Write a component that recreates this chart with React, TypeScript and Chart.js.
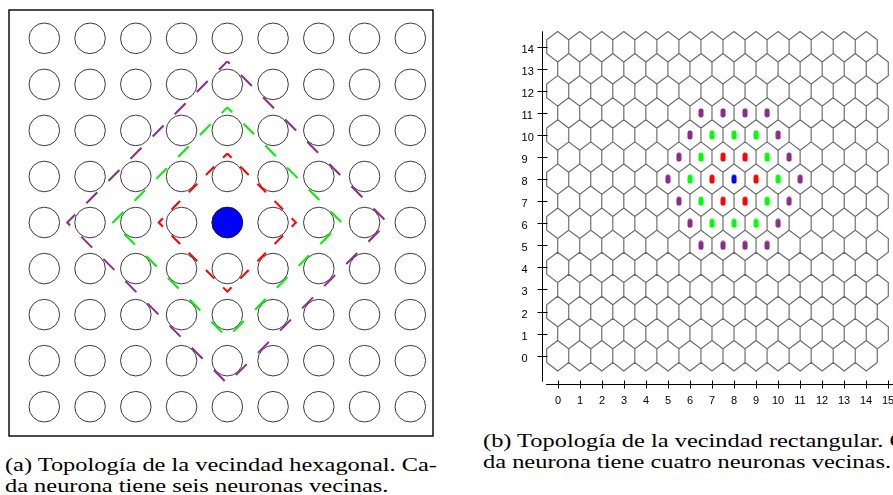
import React, { useEffect, useLayoutEffect, useRef } from "react";
import { Chart, registerables } from "chart.js";

Chart.register(...registerables);

// ---------------- Panel (a): lattice of neurons with neighbourhood rings ----------------
const LATTICE_COLS = [0, 1, 2, 3, 4, 5, 6, 7, 8];
const LATTICE_ROWS = [0, 1, 2, 3, 4, 5, 6, 7, 8];
const WINNER_A = { x: 4, y: 4 };
const RING_RADII = [1.5, 2.5, 3.5];
const RING_COLORS = ["#ff0000", "#00f000", "#8b2b8b"];
const RING_DASHES = [[12, 12.34], [15, 15.91], [15.5, 15.84]];
const RING_DASH_OFFSETS = [6, 8, 12];

// ---------------- Panel (b): hexagonal grid with neighbourhood markers ----------------
const HEX_COLS = [0, 1, 2, 3, 4, 5, 6, 7, 8, 9, 10, 11, 12, 13, 14];
const HEX_ROWS = [0, 1, 2, 3, 4, 5, 6, 7, 8, 9, 10, 11, 12, 13, 14];
const X_TICK_VALUES = [0, 1, 2, 3, 4, 5, 6, 7, 8, 9, 10, 11, 12, 13, 14, 15];
const Y_TICK_VALUES = [0, 1, 2, 3, 4, 5, 6, 7, 8, 9, 10, 11, 12, 13, 14];
const BLUE_CELLS = [[8, 8]];
const RED_CELLS = [[7.5, 9], [8.5, 9], [7, 8], [9, 8], [7.5, 7], [8.5, 7]];
const GREEN_CELLS = [
  [7, 10], [8, 10], [9, 10],
  [6.5, 9], [9.5, 9],
  [6, 8], [10, 8],
  [6.5, 7], [9.5, 7],
  [7, 6], [8, 6], [9, 6],
];
const PURPLE_CELLS = [
  [6.5, 11], [7.5, 11], [8.5, 11], [9.5, 11],
  [6, 10], [10, 10],
  [5.5, 9], [10.5, 9],
  [5, 8], [11, 8],
  [5.5, 7], [10.5, 7],
  [6, 6], [10, 6],
  [6.5, 5], [7.5, 5], [8.5, 5], [9.5, 5],
];

// hexagon shape (in cell units)
const HEX_HALF_W = 0.5;
const HEX_SIDE = 0.31;
const HEX_APEX = 0.69;

const CAPTION_A = [
  "(a) Topología de la vecindad hexagonal. Ca-",
  "da neurona tiene seis neuronas vecinas.",
];
const CAPTION_B = [
  "(b) Topología de la vecindad rectangular. Ca-",
  "da neurona tiene cuatro neuronas vecinas.",
];

function makeMarker(color: string): HTMLCanvasElement {
  const c = document.createElement("canvas");
  c.width = 6;
  c.height = 10;
  const g = c.getContext("2d")!;
  g.fillStyle = color;
  const x = 0.5, y = 0.5, w = 5, h = 9, r = 2.3;
  g.beginPath();
  g.moveTo(x + r, y);
  g.lineTo(x + w - r, y);
  g.arcTo(x + w, y, x + w, y + r, r);
  g.lineTo(x + w, y + h - r);
  g.arcTo(x + w, y + h, x + w - r, y + h, r);
  g.lineTo(x + r, y + h);
  g.arcTo(x, y + h, x, y + h - r, r);
  g.lineTo(x, y + r);
  g.arcTo(x, y, x + r, y, r);
  g.closePath();
  g.fill();
  return c;
}

const boxPlugin = {
  id: "boxPlugin",
  afterDraw(chart: any) {
    const { ctx, chartArea } = chart;
    ctx.save();
    ctx.strokeStyle = "#000";
    ctx.lineWidth = 1.4;
    ctx.strokeRect(chartArea.left, chartArea.top, chartArea.right - chartArea.left, chartArea.bottom - chartArea.top);
    ctx.restore();
  },
};

const hexAxesPlugin = {
  id: "hexAxes",
  afterDraw(chart: any) {
    const { ctx } = chart;
    const xs = chart.scales.x;
    const ys = chart.scales.y;
    ctx.save();
    ctx.strokeStyle = "#000";
    ctx.fillStyle = "#000";
    ctx.lineWidth = 1;
    // y axis
    const ax = Math.round(xs.getPixelForValue(-0.7)) + 0.5;
    ctx.beginPath();
    ctx.moveTo(ax, ys.getPixelForValue(14.7));
    ctx.lineTo(ax, ys.getPixelForValue(-1.18));
    ctx.stroke();
    ctx.font = "11px 'Liberation Sans', Arial, sans-serif";
    ctx.textAlign = "left";
    ctx.textBaseline = "middle";
    Y_TICK_VALUES.forEach((v) => {
      const py = Math.round(ys.getPixelForValue(v)) + 0.5;
      ctx.beginPath();
      ctx.moveTo(ax - 5, py);
      ctx.lineTo(ax + 5, py);
      ctx.stroke();
      ctx.fillText(String(v), xs.getPixelForValue(-1.64), py + 2.5);
    });
    // x axis
    const ay = Math.round(ys.getPixelForValue(-1.26)) + 0.5;
    ctx.beginPath();
    ctx.moveTo(xs.getPixelForValue(-0.53), ay);
    ctx.lineTo(chart.chartArea.right, ay);
    ctx.stroke();
    ctx.textAlign = "center";
    X_TICK_VALUES.forEach((v) => {
      const px = Math.round(xs.getPixelForValue(v)) + 0.5;
      ctx.beginPath();
      ctx.moveTo(px, ay - 4);
      ctx.lineTo(px, ay + 4);
      ctx.stroke();
      ctx.fillText(String(v), px - 0.5, ay + 16.5);
    });
    ctx.restore();
  },
};

function PanelA() {
  const ref = useRef<HTMLCanvasElement>(null);
  useEffect(() => {
    const circles: any[] = [];
    LATTICE_ROWS.forEach((r) => LATTICE_COLS.forEach((c) => circles.push({ x: c, y: r })));
    const rings = RING_RADII.map((rad, i) => ({
      label: "ring" + i,
      data: [
        { x: WINNER_A.x, y: WINNER_A.y - rad },
        { x: WINNER_A.x + rad, y: WINNER_A.y },
        { x: WINNER_A.x, y: WINNER_A.y + rad },
        { x: WINNER_A.x - rad, y: WINNER_A.y },
        { x: WINNER_A.x, y: WINNER_A.y - rad },
      ],
      showLine: true,
      borderColor: RING_COLORS[i],
      borderWidth: 2,
      borderDash: RING_DASHES[i],
      borderDashOffset: RING_DASH_OFFSETS[i],
      pointRadius: 0,
      fill: false,
      order: 0,
    }));
    const chart = new Chart(ref.current!, {
      type: "scatter",
      data: {
        datasets: [
          ...rings,
          {
            label: "winner",
            data: [WINNER_A],
            pointRadius: 15.3,
            pointBackgroundColor: "#0000ff",
            pointBorderColor: "#1a1a3a",
            pointBorderWidth: 1,
            order: 1,
          },
          {
            label: "neurons",
            data: circles,
            pointRadius: 15.3,
            pointBackgroundColor: "rgba(255,255,255,0)",
            pointBorderColor: "#3a3a3a",
            pointBorderWidth: 1,
            order: 2,
          },
        ] as any,
      },
      options: {
        animation: false,
        responsive: false,
        devicePixelRatio: 1,
        events: [],
        layout: { padding: 3, autoPadding: false },
        plugins: { legend: { display: false }, tooltip: { enabled: false } },
        scales: {
          x: { type: "linear", display: false, min: -0.7716, max: 8.496, bounds: "data" },
          y: { type: "linear", display: false, reverse: true, min: -0.615, max: 8.636, bounds: "data" },
        },
      } as any,
      plugins: [boxPlugin],
    });
    return () => chart.destroy();
  }, []);
  return (
    <canvas
      ref={ref}
      width={430}
      height={432}
      style={{ position: "absolute", left: 6, top: 7, width: 430, height: 432 }}
    />
  );
}

function PanelB() {
  const ref = useRef<HTMLCanvasElement>(null);
  useEffect(() => {
    const hexPts: any[] = [];
    HEX_ROWS.forEach((r) => {
      const shift = r % 2 === 1 ? 0.5 : 0;
      HEX_COLS.forEach((c) => {
        const cx = c + shift;
        hexPts.push(
          { x: cx, y: r + HEX_APEX },
          { x: cx + HEX_HALF_W, y: r + HEX_SIDE },
          { x: cx + HEX_HALF_W, y: r - HEX_SIDE },
          { x: cx, y: r - HEX_APEX },
          { x: cx - HEX_HALF_W, y: r - HEX_SIDE },
          { x: cx - HEX_HALF_W, y: r + HEX_SIDE },
          { x: cx, y: r + HEX_APEX },
          { x: null, y: null }
        );
      });
    });
    const toPts = (cells: number[][]) => cells.map(([x, y]) => ({ x, y }));
    const markerSet = (label: string, cells: number[][], color: string) => ({
      label,
      data: toPts(cells),
      pointStyle: makeMarker(color),
      pointRadius: 4,
      order: 0,
    });
    const chart = new Chart(ref.current!, {
      type: "scatter",
      data: {
        datasets: [
          markerSet("blue", BLUE_CELLS, "#0000ff"),
          markerSet("red", RED_CELLS, "#ff0000"),
          markerSet("green", GREEN_CELLS, "#00ff00"),
          markerSet("purple", PURPLE_CELLS, "#8b2b8b"),
          {
            label: "grid",
            data: hexPts,
            showLine: true,
            spanGaps: false,
            borderColor: "#6a6a6a",
            borderWidth: 1.15,
            pointRadius: 0,
            fill: false,
            order: 5,
          },
        ] as any,
      },
      options: {
        animation: false,
        responsive: false,
        devicePixelRatio: 1,
        events: [],
        layout: { padding: 0, autoPadding: false },
        plugins: { legend: { display: false }, tooltip: { enabled: false } },
        scales: {
          x: { type: "linear", display: false, min: -1.7105, max: 15.2132, bounds: "data" },
          y: { type: "linear", display: false, min: -3.14, max: 14.984, bounds: "data" },
        },
      } as any,
      plugins: [hexAxesPlugin],
    });
    return () => chart.destroy();
  }, []);
  return (
    <canvas
      ref={ref}
      width={373}
      height={400}
      style={{ position: "absolute", left: 520, top: 25, width: 373, height: 400 }}
    />
  );
}

function Caption(props: { lines: string[]; left: number; top: number; refIndex: number; refWidth: number }) {
  const refs = useRef<(HTMLSpanElement | null)[]>([]);
  useLayoutEffect(() => {
    const el = refs.current[props.refIndex];
    if (!el) return;
    const w = el.getBoundingClientRect().width;
    const k = props.refWidth / w;
    refs.current.forEach((s) => {
      if (s) s.style.transform = `scaleX(${k})`;
    });
  }, []);
  return (
    <div
      style={{
        position: "absolute",
        left: props.left,
        top: props.top,
        fontFamily: "'Liberation Serif', 'Times New Roman', serif",
        fontSize: 18,
        lineHeight: "21px",
        whiteSpace: "nowrap",
        color: "#000",
      }}
    >
      {props.lines.map((t, i) => (
        <div key={i}>
          <span
            ref={(el) => {
              refs.current[i] = el;
            }}
            style={{ display: "inline-block", transformOrigin: "0 0" }}
          >
            {t}
          </span>
        </div>
      ))}
    </div>
  );
}

export default function App() {
  return (
    <div
      style={{
        position: "absolute",
        left: 0,
        top: 0,
        width: 893,
        height: 495,
        overflow: "hidden",
        background: "#fff",
      }}
    >
      <PanelA />
      <PanelB />
      <Caption lines={CAPTION_A} left={5} top={455} refIndex={0} refWidth={432} />
      <Caption lines={CAPTION_B} left={483} top={431} refIndex={1} refWidth={408} />
    </div>
  );
}
